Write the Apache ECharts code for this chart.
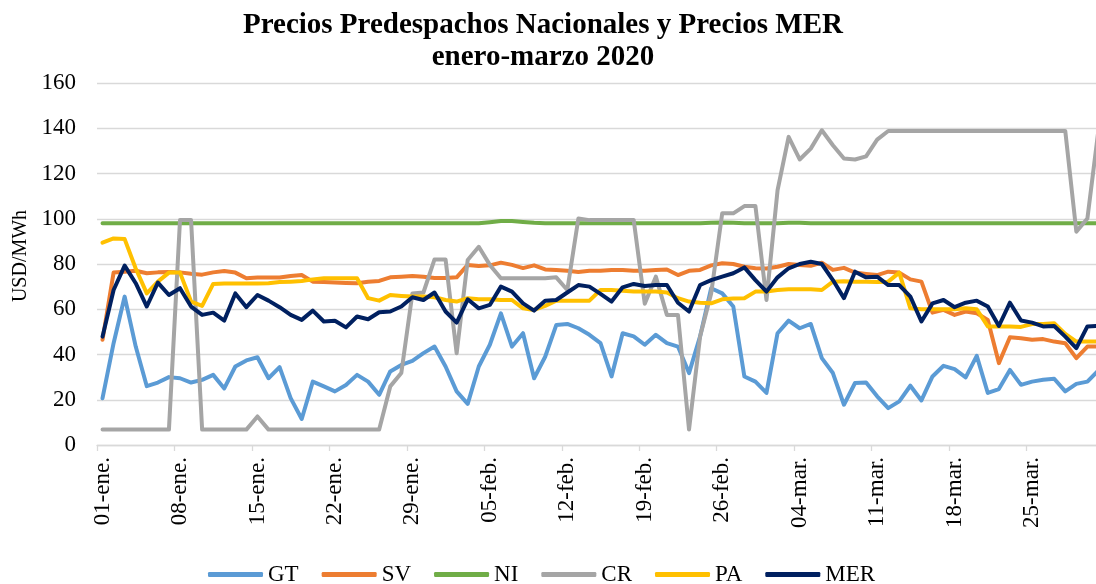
<!DOCTYPE html>
<html>
<head>
<meta charset="utf-8">
<script src="https://cdn.jsdelivr.net/npm/echarts@6/dist/echarts.min.js"></script>
<style>
  html, body { margin: 0; padding: 0; background: #fff; }
  #chart { width: 1096px; height: 584px; }
</style>
</head>
<body>
<div id="chart"></div>
<script>
// dias 01-ene. .. 31-mar. 2020
var months = [['ene.', 31], ['feb.', 29], ['mar.', 31]]
var days = []
months.forEach(function (m) {
  for (var i = 1; i <= m[1]; i++) {
    days.push((i < 10 ? '0' : '') + i + '-' + m[0])
  }
})

var gt = [
  20.7, 45, 65.6, 43.5, 26, 27.6, 30, 29.5, 27.6, 28.8,
  31, 25, 34.7, 37.4, 38.8, 29.5, 34.4, 20.7, 11.5, 28,
  25.9, 23.7, 26.5, 31, 28, 22.2, 32.5, 35.4, 37.2, 40.6,
  43.5, 34.7, 23.7, 18.2, 34.7, 44.3, 58.2, 43.5, 49.4, 29.5,
  39, 53, 53.5, 51.6, 48.7, 45, 30.3, 49.4, 48, 44.3,
  48.7, 45, 43.5, 31.8, 48, 69.3, 67, 61.2, 30.3, 28,
  23, 49.4, 55, 51.6, 53.5, 38.4, 31.8, 17.8, 27.4, 27.6,
  21.5, 16.3, 19.3, 26.2, 19.7, 30.3, 35, 33.5, 29.9, 39.4,
  23, 24.7, 33.2, 26.6, 28, 28.8, 29.3, 23.7, 27, 28,
  33
]
var sv = [
  46.5, 76.2, 76.6, 77, 75.9, 76.3, 76.5, 76.3, 75.7, 75.3,
  76.3, 76.9, 76.2, 73.7, 74, 74, 74, 74.7, 75.1, 72.2,
  72, 71.8, 71.6, 71.5, 72.2, 72.5, 74.1, 74.4, 74.7, 74.4,
  73.8, 73.8, 74.1, 79.6, 79.1, 79.4, 80.6, 79.6, 78.2, 79.4,
  77.6, 77.4, 77, 76.5, 77, 77, 77.4, 77.3, 77, 77,
  77.4, 77.6, 75.1, 77, 77.4, 79.4, 80.3, 80, 78.8, 78.1,
  78, 78.8, 80, 79.6, 79.2, 80.6, 77.4, 78.3, 76.2, 75.6,
  75.1, 76.6, 76.2, 73.2, 72.2, 58.5, 59.7, 57.5, 59, 58.2,
  55.3, 36.2, 47.6, 47.2, 46.5, 46.8, 45.7, 45, 38.4, 43.5,
  43.5
]
var ni = [
  98, 98, 98, 98, 98, 98, 98, 98, 98, 98,
  98, 98, 98, 98, 98, 98, 98, 98, 98, 98,
  98, 98, 98, 98, 98, 98, 98, 98, 98, 98,
  98, 98, 98, 98, 98, 98.5, 99, 99, 98.6, 98.2,
  98, 98, 98, 98, 98, 98, 98, 98, 98, 98,
  98, 98, 98, 98, 98, 98.2, 98.3, 98.2, 98, 98,
  98, 98, 98.2, 98.2, 98, 98, 98, 98, 98, 98,
  98, 98, 98, 98, 98, 98, 98, 98, 98, 98,
  98, 98, 98, 98, 98, 98, 98, 98, 98, 98,
  98
]
var cr = [
  6.8, 6.8, 6.8, 6.8, 6.8, 6.8, 6.8, 99.4, 99.4, 6.8,
  6.8, 6.8, 6.8, 6.8, 12.6, 6.8, 6.8, 6.8, 6.8, 6.8,
  6.8, 6.8, 6.8, 6.8, 6.8, 6.8, 25.9, 31.8, 67, 67.4,
  82, 82, 40.6, 81.8, 87.6, 79.6, 73.7, 73.7, 73.7, 73.7,
  73.7, 74.1, 68.5, 100.1, 99.4, 99.4, 99.4, 99.4, 99.4, 62.4,
  74.4, 57.5, 57.5, 6.8, 48, 67, 102.4, 102.4, 105.6, 105.6,
  64.1, 112.6, 136.2, 126.2, 131, 139.1, 132.5, 126.6, 126.2, 127.6,
  135, 138.8, 138.8, 138.8, 138.8, 138.8, 138.8, 138.8, 138.8, 138.8,
  138.8, 138.8, 138.8, 138.8, 138.8, 138.8, 138.8, 138.8, 94.3, 100.1,
  139.4
]
var pa = [
  89.4, 91.3, 91, 78, 67, 72.2, 76.2, 76.2, 63.4, 61.5,
  71.2, 71.4, 71.4, 71.4, 71.4, 71.5, 72, 72.2, 72.5, 73.2,
  73.7, 73.7, 73.7, 73.7, 64.9, 63.8, 66.3, 65.9, 65.6, 65.6,
  65.3, 64.1, 63.4, 64.9, 64.4, 64.4, 64.1, 64.1, 60.4, 59.7,
  61.5, 63.8, 63.8, 63.8, 63.8, 68.5, 68.5, 68.2, 67.8, 67.8,
  67.8, 67.4, 64.9, 63.4, 62.9, 62.6, 64.4, 64.7, 64.9, 67.8,
  67.8, 68.5, 68.8, 68.8, 68.8, 68.5, 72.2, 72.4, 72.2, 72.2,
  72, 72.2, 76.2, 60.4, 60, 60, 60, 60, 60.4, 60,
  52.4, 52.4, 52.4, 52.2, 53.5, 53.5, 53.8, 49.1, 45.7, 45.7,
  45.7
]
var mer = [
  47.9, 68.5, 79.3, 71.5, 61.2, 71.8, 66.3, 69.3, 61.2, 57.5,
  58.5, 55, 67, 60.9, 66.3, 63.8, 60.9, 57.5, 55.3, 59.4,
  54.6, 54.9, 52, 56.8, 55.6, 58.7, 59, 61.2, 65.3, 64.1,
  67.4, 59, 54.1, 64.4, 60.4, 61.9, 70, 67.8, 62.6, 59.4,
  63.8, 64.1, 67.4, 70.7, 70, 66.8, 63.4, 69.7, 71.2, 70.3,
  70.7, 70.7, 62.9, 59, 70.7, 72.9, 74.4, 75.9, 78.5, 72.9,
  67.8, 74.1, 78.1, 80, 81, 80, 72.9, 64.9, 76.6, 74.1,
  74.4, 70.7, 70.7, 65.6, 54.6, 62.6, 64.1, 60.9, 62.9, 63.8,
  61.2, 52.6, 62.9, 55, 54.1, 52.4, 52.6, 47.9, 42.8, 52.4,
  52.6
]

var seriesNames = ['GT', 'SV', 'NI', 'CR', 'PA', 'MER']
var seriesData = [gt, sv, ni, cr, pa, mer]
var colors = ['#5B9BD5', '#ED7D31', '#70AD47', '#A5A5A5', '#FFC000', '#002060']

var font = 'Liberation Serif, Times New Roman, serif'
var chart = echarts.init(document.getElementById('chart'))

var option = {
  backgroundColor: '#fff',
  color: colors,
  animation: false,
  title: {
    text: 'Precios Predespachos Nacionales y Precios MER\nenero-marzo 2020',
    left: 538,
    top: 5,
    textAlign: 'center',
    textStyle: {
      fontFamily: font,
      fontWeight: 'bold',
      fontSize: 29,
      lineHeight: 32,
      color: '#000'
    }
  },
  legend: {
    data: seriesNames,
    left: 203,
    top: 558,
    icon: 'roundRect',
    itemWidth: 55,
    itemHeight: 5,
    itemGap: 23,
    textStyle: { fontFamily: font, fontSize: 23, color: '#000' }
  },
  grid: { left: 97, top: 83, width: 1007, height: 362, outerBoundsMode: 'none' },
  xAxis: {
    type: 'category',
    data: days,
    boundaryGap: true,
    axisLine: { lineStyle: { color: '#d9d9d9', width: 1.3 } },
    axisTick: { show: true, interval: 6, length: 6, lineStyle: { color: '#d9d9d9', width: 1.3 } },
    axisLabel: {
      interval: 6,
      rotate: 90,
      margin: 12,
      fontFamily: font,
      fontSize: 23,
      color: '#000'
    },
    splitLine: { show: false }
  },
  yAxis: {
    type: 'value',
    min: 0,
    max: 160,
    interval: 20,
    name: 'USD/MWh',
    nameLocation: 'middle',
    nameRotate: 90,
    nameGap: 66,
    nameTextStyle: { fontFamily: font, fontSize: 20, color: '#000', padding: [0, 0, 0, 16] },
    axisLine: { show: false },
    axisTick: { show: false },
    axisLabel: { margin: 21, fontFamily: font, fontSize: 23, color: '#000' },
    splitLine: { lineStyle: { color: '#d9d9d9', width: 1.3 } }
  },
  series: seriesNames.map(function (name, i) {
    return {
      name: name,
      type: 'line',
      data: seriesData[i],
      symbol: 'none',
      lineStyle: { width: 4, color: colors[i], cap: 'round', join: 'round' },
      itemStyle: { color: colors[i] },
      z: 2 + i
    }
  })
}

chart.setOption(option)
</script>
</body>
</html>
